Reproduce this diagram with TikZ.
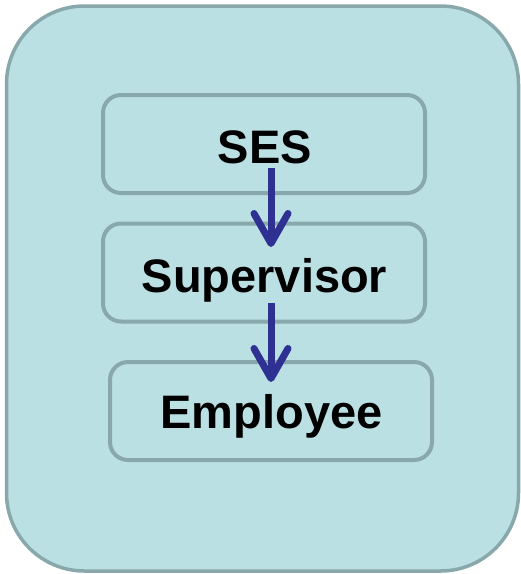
\documentclass[tikz,border=0pt]{standalone}
\usepackage{fontspec}
\setmainfont{Liberation Sans}
\usetikzlibrary{arrows.meta}
\definecolor{panelfill}{HTML}{BBE0E4}
\definecolor{panelline}{HTML}{89A8AB}
\definecolor{arrowblue}{HTML}{2E3192}
\tikzset{
  panel/.style={draw=panelline, line width=3.5pt, fill=panelfill, rounded corners=78pt},
  levelbox/.style={draw=panelline, line width=4pt, rounded corners=18pt, inner sep=0pt},
  leveltext/.style={font=\bfseries\fontsize{47pt}{50pt}\selectfont, anchor=base, inner sep=0pt},
  flow/.style={draw=arrowblue, line width=7pt, -{Straight Barb[length=30pt,width=34pt,round]}}
}
\begin{document}
\begin{tikzpicture}[x=1pt,y=-1pt]
\useasboundingbox (0,0) rectangle (521,574);
\draw[panel] (6.5,6) rectangle (518.5,571);
\node[levelbox, minimum width=322pt, minimum height=98pt] (ses) at (264,144) {};
\node[levelbox, minimum width=322pt, minimum height=98pt] (sup) at (264,272.5) {};
\node[levelbox, minimum width=322pt, minimum height=98pt] (emp) at (271,411) {};
\node[leveltext] (sest) at (265,163) {SES};
\node[leveltext] (supt) at (264.5,292) {Supervisor};
\node[leveltext] (empt) at (271.5,428) {Employee};
\coordinate (a1s) at (271,168);
\coordinate (a1e) at (271,247);
\coordinate (a2s) at (271,303);
\coordinate (a2e) at (271,382);
\draw[flow] (a1s) -- (a1e);
\draw[flow] (a2s) -- (a2e);
\end{tikzpicture}
\end{document}
